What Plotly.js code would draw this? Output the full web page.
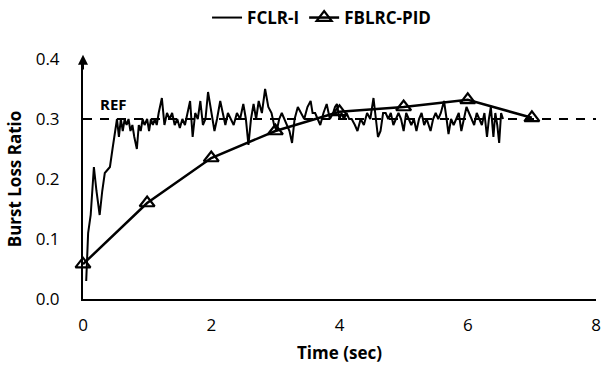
<!DOCTYPE html>
<html><head><meta charset="utf-8">
<script src="https://cdn.plot.ly/plotly-3.0.1.min.js"></script>
<style>html,body{margin:0;padding:0;background:#fff}#chart{width:604px;height:368px}</style>
</head><body><div id="chart"></div>
<script>
const fclrTime = [0.05,0.08,0.12,0.17,0.21,0.26,0.30,0.34,0.38,0.42,0.46,0.50,0.53,0.56,0.59,0.62,0.65,0.68,0.71,0.74,0.77,0.80,0.84,0.87,0.90,0.93,0.96,1.00,1.03,1.06,1.09,1.12,1.15,1.18,1.23,1.27,1.31,1.35,1.39,1.43,1.47,1.51,1.55,1.59,1.63,1.67,1.71,1.75,1.79,1.83,1.87,1.91,1.95,2.00,2.05,2.09,2.14,2.18,2.22,2.26,2.30,2.35,2.40,2.45,2.50,2.54,2.58,2.62,2.66,2.70,2.74,2.79,2.84,2.89,2.94,2.98,3.02,3.06,3.10,3.14,3.18,3.22,3.26,3.30,3.35,3.40,3.45,3.50,3.55,3.58,3.62,3.66,3.70,3.75,3.80,3.85,3.90,3.93,3.96,4.00,4.03,4.07,4.11,4.15,4.19,4.24,4.28,4.33,4.38,4.43,4.48,4.53,4.57,4.60,4.64,4.68,4.72,4.76,4.80,4.84,4.88,4.92,4.96,5.00,5.04,5.08,5.12,5.16,5.20,5.24,5.28,5.32,5.36,5.42,5.46,5.50,5.54,5.58,5.63,5.67,5.70,5.74,5.78,5.82,5.86,5.90,5.94,5.98,6.02,6.06,6.10,6.14,6.18,6.22,6.26,6.30,6.33,6.36,6.40,6.43,6.46,6.49,6.52,6.55];
const fclrValue = [0.03,0.11,0.14,0.22,0.18,0.14,0.18,0.21,0.215,0.22,0.25,0.28,0.30,0.27,0.30,0.28,0.30,0.29,0.30,0.28,0.29,0.27,0.25,0.29,0.28,0.30,0.29,0.30,0.28,0.30,0.29,0.30,0.29,0.31,0.335,0.29,0.31,0.30,0.31,0.29,0.30,0.285,0.30,0.29,0.31,0.33,0.27,0.31,0.30,0.33,0.29,0.30,0.345,0.31,0.28,0.30,0.33,0.31,0.29,0.31,0.30,0.29,0.31,0.30,0.325,0.30,0.257,0.30,0.325,0.30,0.33,0.31,0.35,0.32,0.31,0.29,0.28,0.30,0.31,0.30,0.29,0.28,0.26,0.30,0.32,0.31,0.30,0.32,0.33,0.31,0.31,0.30,0.29,0.31,0.325,0.30,0.31,0.32,0.325,0.30,0.31,0.30,0.31,0.30,0.30,0.29,0.28,0.30,0.29,0.31,0.30,0.335,0.30,0.27,0.28,0.31,0.31,0.30,0.31,0.29,0.30,0.31,0.30,0.28,0.31,0.30,0.29,0.30,0.28,0.30,0.31,0.29,0.30,0.28,0.30,0.31,0.30,0.31,0.33,0.30,0.275,0.30,0.29,0.30,0.31,0.28,0.30,0.32,0.31,0.30,0.29,0.31,0.30,0.29,0.31,0.27,0.30,0.32,0.27,0.31,0.29,0.26,0.31,0.30];
const pidTime = [0,1,2,3,4,5,6,7];
const pidValue = [0.058,0.16,0.235,0.28,0.312,0.32,0.332,0.302];
const refValue = 0.3;
const refTime = [0,8];
const xTicks = [0,2,4,6,8];
const yTicks = [0.0,0.1,0.2,0.3,0.4];

const font = '"Open Sans", Lato, "DejaVu Sans", sans-serif';
const traces = [
  {x: fclrTime, y: fclrValue, name: 'FCLR-I', mode: 'lines', line: {color: '#000', width: 2}, cliponaxis: false},
  {x: pidTime, y: pidValue, name: 'FBLRC-PID', mode: 'lines+markers', line: {color: '#000', width: 2.5},
   marker: {symbol: 'triangle-up-open', size: 13, color: '#000', line: {width: 2.2, color: '#000'}}, cliponaxis: false},
  {x: refTime, y: [refValue, refValue], mode: 'lines', line: {color: '#000', width: 2, dash: '9px,8px'}, showlegend: false, hoverinfo: 'skip'}
];
const layout = {
  width: 604, height: 368,
  margin: {l: 83, r: 8, t: 59, b: 69},
  paper_bgcolor: '#fff', plot_bgcolor: '#fff',
  font: {family: font, size: 17, color: '#000'},
  showlegend: true,
  legend: {orientation: 'h', x: 0.465, xanchor: 'center', yref: 'container', y: 1.0, yanchor: 'top',
    font: {family: font, size: 17, color: '#000', weight: 'bold'}, itemwidth: 30, tracegroupgap: 0},
  xaxis: {range: [0, 8], tickvals: xTicks, ticktext: xTicks.map(String), showgrid: false, zeroline: false,
    showline: true, linecolor: '#000', linewidth: 2, ticks: '', ticklen: 0, ticklabelstandoff: 10,
    tickfont: {family: font, size: 17, color: '#000'},
    title: {text: 'Time (sec)', standoff: 12, font: {family: font, size: 17, color: '#000', weight: 'bold'}}},
  yaxis: {range: [0, 0.4], tickvals: yTicks, ticktext: yTicks.map(v => v.toFixed(1)), showgrid: false, zeroline: false,
    showline: true, linecolor: '#000', linewidth: 2, ticks: '', ticklen: 0, ticklabelstandoff: 18,
    tickfont: {family: font, size: 17, color: '#000'},
    title: {text: 'Burst Loss Ratio', standoff: 10, font: {family: font, size: 17, color: '#000', weight: 'bold'}}},
  annotations: [
    {x: 0, y: 0.407, xref: 'x', yref: 'y', ax: 0, ay: 0.38, axref: 'x', ayref: 'y', showarrow: true,
     arrowhead: 2, arrowsize: 1, arrowwidth: 2, arrowcolor: '#000', text: ''},
    {x: 0.48, y: 0.3, xref: 'x', yref: 'y', yanchor: 'bottom', yshift: 3, showarrow: false, text: '<b>REF</b>',
     font: {family: font, size: 15, color: '#000'}}
  ]
};
Plotly.newPlot('chart', traces, layout, {displayModeBar: false, staticPlot: true});
</script></body></html>
